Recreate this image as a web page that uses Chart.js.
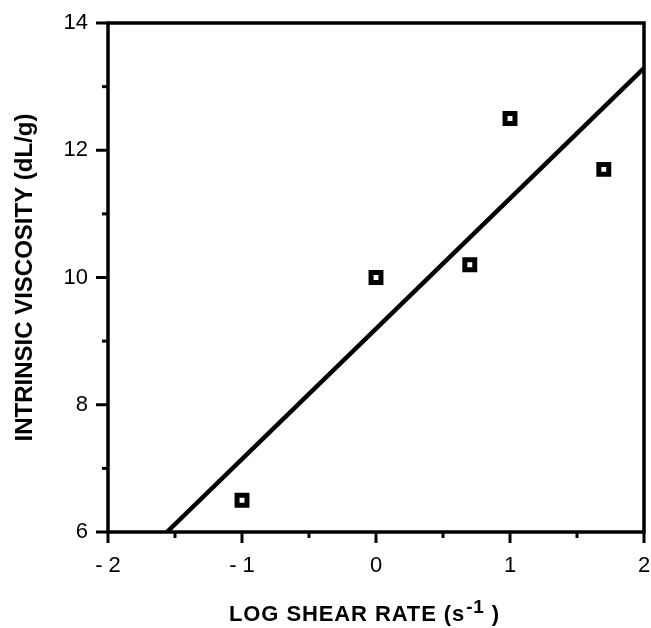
<!DOCTYPE html>
<html>
<head>
<meta charset="utf-8">
<script src="https://cdn.jsdelivr.net/npm/chart.js@4"></script>
<style>
html,body{margin:0;padding:0;background:#fff;}
#wrap{width:651px;height:628px;}
</style>
</head>
<body>
<div id="wrap"><canvas id="c" width="651" height="628"></canvas></div>
<script>
// Data
const logShearRate = [-1, 0, 0.7, 1, 1.7];
const intrinsicViscosity = [6.5, 10.0, 10.2, 12.5, 11.7];
const fitLineX = [-1.56, 2];
const fitLineY = [6.0, 13.29];
const xTickLabels = {"-2": "- 2", "-1": "- 1", "0": "0", "1": "1", "2": "2"};
const yTickLabels = {"6": "6", "8": "8", "10": "10", "12": "12", "14": "14"};
const xTitle = "LOG SHEAR RATE (s";
const xTitleSup = "-1";
const xTitleEnd = " )";
const yTitle = "INTRINSIC VISCOSITY (dL/g)";

const FONT = "'Liberation Sans', Arial, Helvetica, sans-serif";

const framePlugin = {
  id: 'frame',
  afterDatasetsDraw(chart) {
    const {ctx, chartArea: a, scales} = chart;
    ctx.save();
    ctx.strokeStyle = '#000';
    ctx.lineWidth = 3.5;
    ctx.strokeRect(a.left, a.top, a.right - a.left, a.bottom - a.top);
    ctx.lineWidth = 3;
    ctx.lineCap = 'butt';
    // x ticks
    scales.x.ticks.forEach(t => {
      const px = scales.x.getPixelForValue(t.value);
      const len = Number.isInteger(t.value) ? 11 : 6;
      ctx.beginPath();
      ctx.moveTo(px, a.bottom);
      ctx.lineTo(px, a.bottom + len);
      ctx.stroke();
    });
    // y ticks
    scales.y.ticks.forEach(t => {
      const py = scales.y.getPixelForValue(t.value);
      const len = (t.value % 2 === 0) ? 12 : 6;
      ctx.beginPath();
      ctx.moveTo(a.left, py);
      ctx.lineTo(a.left - len, py);
      ctx.stroke();
    });
    // x title with superscript
    ctx.fillStyle = '#000';
    ctx.textBaseline = 'alphabetic';
    ctx.textAlign = 'left';
    try { ctx.letterSpacing = '0.9px'; } catch (e) {}
    const mainFont = "bold 22px " + FONT;
    const supFont = "bold 19px " + FONT;
    ctx.font = mainFont;
    const w1 = ctx.measureText(xTitle).width;
    ctx.font = supFont;
    const w2 = ctx.measureText(xTitleSup).width;
    let x = 229;
    const base = 621;
    ctx.font = mainFont;
    ctx.fillText(xTitle, x, base);
    x += w1 + 1;
    ctx.font = supFont;
    ctx.fillText(xTitleSup, x, base - 8);
    x += w2;
    ctx.font = mainFont;
    ctx.fillText(xTitleEnd, x, base);
    ctx.restore();
  }
};

new Chart(document.getElementById('c'), {
  type: 'scatter',
  data: {
    datasets: [
      {
        type: 'line',
        data: fitLineX.map((x, i) => ({x: x, y: fitLineY[i]})),
        borderColor: '#000',
        borderWidth: 4.5,
        pointRadius: 0,
        fill: false,
        tension: 0
      },
      {
        type: 'scatter',
        data: logShearRate.map((x, i) => ({x: x, y: intrinsicViscosity[i]})),
        pointStyle: 'rect',
        pointRadius: 7,
        pointBorderWidth: 5,
        borderColor: '#000',
        backgroundColor: '#fff',
        pointBackgroundColor: '#fff',
        pointBorderColor: '#000'
      }
    ]
  },
  options: {
    responsive: false,
    animation: false,
    devicePixelRatio: 1,
    layout: {autoPadding: false, padding: {top: 23, right: 7, left: 0, bottom: 0}},
    plugins: {legend: {display: false}, tooltip: {enabled: false}},
    scales: {
      x: {
        type: 'linear',
        min: -2, max: 2,
        border: {display: false},
        grid: {display: false, drawTicks: false},
        ticks: {
          stepSize: 0.5,
          padding: 21,
          color: '#000',
          font: {family: FONT, size: 22},
          maxRotation: 0,
          autoSkip: false,
          callback: v => xTickLabels[String(v)] ?? ''
        },
        afterFit: s => { s.height = 96; s.paddingLeft = 0; s.paddingRight = 0; }
      },
      y: {
        type: 'linear',
        min: 6, max: 14,
        border: {display: false},
        grid: {display: false, drawTicks: false},
        ticks: {
          stepSize: 1,
          padding: 20,
          color: '#000',
          font: {family: FONT, size: 22},
          autoSkip: false,
          callback: v => yTickLabels[String(v)] ?? ''
        },
        title: {
          display: true,
          text: yTitle,
          color: '#000',
          font: {family: FONT, size: 24, weight: 'bold'},
          padding: {top: 11, bottom: 0}
        },
        afterFit: s => { s.width = 108; s.paddingTop = 0; s.paddingBottom = 0; }
      }
    }
  },
  plugins: [framePlugin]
});
</script>
</body>
</html>
